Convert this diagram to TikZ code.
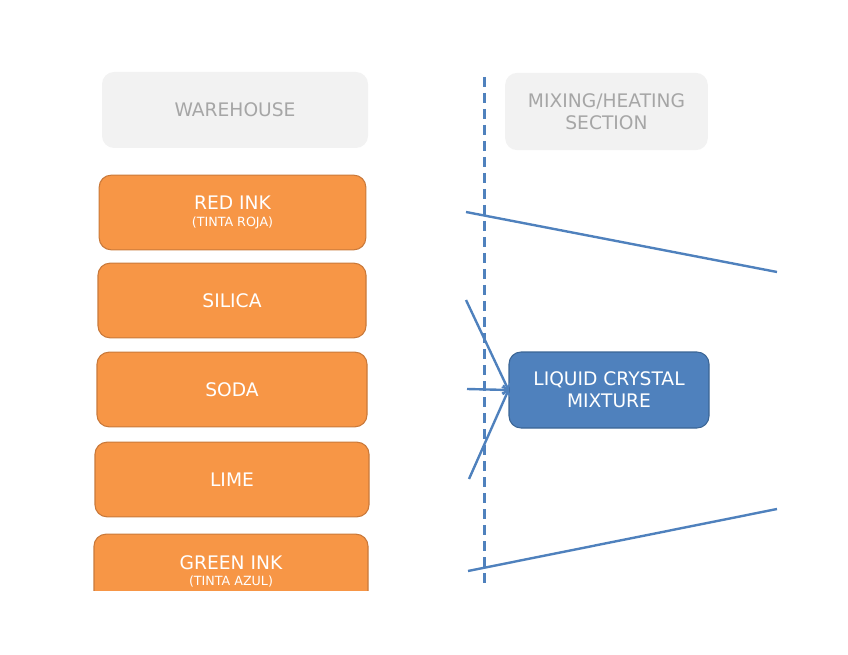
\documentclass[tikz,border=0pt]{standalone}
\usepackage{fontspec}
\setmainfont{DejaVu Sans}
\definecolor{paleGray}{HTML}{F2F2F2}
\definecolor{labelGray}{HTML}{A6A6A6}
\definecolor{inkOrange}{HTML}{F79646}
\definecolor{inkOrangeDark}{HTML}{C9793A}
\definecolor{mixBlue}{HTML}{4F81BD}
\definecolor{mixBlueDark}{HTML}{3B6595}
\begin{document}
\begin{tikzpicture}[x=0.75pt,y=-0.75pt,
		header/.style={fill=paleGray, rounded corners=9pt, text=labelGray, align=center, font=\fontsize{14}{16.5}\selectfont},
		stock/.style={fill=inkOrange, draw=inkOrangeDark, line width=0.8pt, rounded corners=9pt, text=white, align=center, minimum width=200pt, minimum height=56pt, font=\fontsize{14}{16.5}\selectfont},
		flow/.style={mixBlue, line width=1.8pt}]
	\useasboundingbox (0,0) rectangle (848,655);
	\node [header, minimum width=199.5pt, minimum height=57pt] (warehouse) at (235,110) {WAREHOUSE};
	\node [header, minimum width=152pt, minimum height=58pt] (section) at (606.5,111.5) {MIXING/HEATING\\SECTION};
	\draw [mixBlue, line width=2.25pt, dash pattern=on 7.5pt off 4.5pt] (484,77) -- (484,585);
	\node [stock] (red) at (232.5,212.5) {RED INK\\[-4pt]{\fontsize{9.5}{11}\selectfont (TINTA ROJA)}};
	\node [stock, minimum width=201pt] (silica) at (232,300.5) {SILICA};
	\node [stock, minimum width=202.5pt] (soda) at (232,389.5) {SODA};
	\node [stock, minimum width=205.5pt] (lime) at (232,479.5) {LIME};
	\begin{scope}
		\clip (0,0) rectangle (848,590);
		\node [stock, minimum width=205.5pt] (green) at (231,571.5) {GREEN INK\\[-4pt]{\fontsize{9.5}{11}\selectfont (TINTA AZUL)}};
	\end{scope}
	\node [fill=mixBlue, draw=mixBlueDark, line width=0.8pt, rounded corners=9pt, text=white, align=center, minimum width=150pt, minimum height=57pt, font=\fontsize{14}{16.5}\selectfont] (mix) at (609,390) {LIQUID CRYSTAL\\MIXTURE};
	% feeds into the mixture
	\coordinate (fromSilica) at (466,300);
	\coordinate (fromSoda) at (467,389);
	\coordinate (fromLime) at (469,479);
	\draw [flow, ->] (fromSilica) -- (mix.west);
	\draw [flow, ->] (fromSoda) -- (mix.west);
	\draw [flow, ->] (fromLime) -- (mix.west);
	% ink lines
	\coordinate (redStart) at (466,212);
	\coordinate (redEnd) at (777,272);
	\coordinate (greenStart) at (468,571);
	\coordinate (greenEnd) at (777,509);
	\draw [flow] (redStart) -- (redEnd);
	\draw [flow] (greenStart) -- (greenEnd);
\end{tikzpicture}
\end{document}
